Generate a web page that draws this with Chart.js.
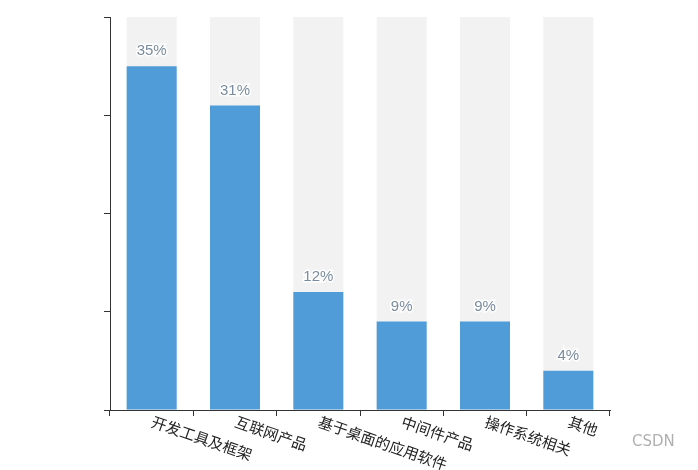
<!DOCTYPE html>
<html>
<head>
<meta charset="utf-8">
<script src="https://cdn.jsdelivr.net/npm/chart.js@4"></script>
<style>
  body { margin: 0; background: #fff; }
  #wrap { width: 698px; height: 470px; }
</style>
</head>
<body>
<div id="wrap"><canvas id="chart"></canvas></div>
<script>
const categories = ["开发工具及框架", "互联网产品", "基于桌面的应用软件", "中间件产品", "操作系统相关", "其他"];
const shares = [35, 31, 12, 9, 9, 4];
const fullScale = [40, 40, 40, 40, 40, 40];
const yTicks = [0, 10, 20, 30, 40];

// draws the slanted category names, the % labels and the watermark
const labelsPlugin = {
    id: 'labels',
    afterDraw(chart) {
        const ctx = chart.ctx;
        const x = chart.scales.x;
        const y = chart.scales.y;
        ctx.save();
        ctx.font = '15px "Noto Sans CJK SC", sans-serif';
        ctx.fillStyle = '#222';
        ctx.textAlign = 'left';
        ctx.textBaseline = 'top';
        categories.forEach((c, i) => {
            ctx.save();
            ctx.translate(x.getPixelForTick(i) + 3, y.bottom + 4);
            ctx.rotate(19 * Math.PI / 180);
            ctx.fillText(c, 0, 0);
            ctx.restore();
        });

        const meta = chart.getDatasetMeta(0);
        ctx.font = '15px "Liberation Sans", Arial, sans-serif';
        ctx.textAlign = 'center';
        ctx.textBaseline = 'middle';
        ctx.lineWidth = 3;
        ctx.strokeStyle = '#fff';
        ctx.fillStyle = '#7a8c9e';
        meta.data.forEach((bar, i) => {
            const t = shares[i] + '%';
            ctx.strokeText(t, bar.x, bar.y - 15);
            ctx.fillText(t, bar.x, bar.y - 15);
        });

        ctx.font = '15px "DejaVu Sans", sans-serif';
        ctx.fillStyle = '#b0b0b0';
        ctx.textAlign = 'left';
        ctx.fillText('CSDN', 632, 442);
        ctx.restore();
    }
};

new Chart(document.getElementById("chart"), {
    type: 'bar',
    data: {
        labels: categories,
        datasets: [{
            data: shares,
            backgroundColor: '#4f9cd9',
            grouped: false,
            barPercentage: 0.6,
            categoryPercentage: 1
        }, {
            data: fullScale,
            backgroundColor: '#f2f2f2',
            grouped: false,
            barPercentage: 0.6,
            categoryPercentage: 1
        }]
    },
    options: {
        responsive: true,
        maintainAspectRatio: false,
        animation: false,
        layout: { padding: { left: 104, right: 88, top: 17, bottom: 54 } },
        plugins: { legend: { display: false }, tooltip: { enabled: false } },
        scales: {
            x: {
                grid: { drawOnChartArea: false, tickLength: 6, color: '#333' },
                border: { color: '#333' },
                ticks: { display: false }
            },
            y: {
                min: yTicks[0],
                max: yTicks[yTicks.length - 1],
                afterBuildTicks: (s) => { s.ticks = yTicks.map(v => ({ value: v })); },
                grid: { drawOnChartArea: false, tickLength: 6, color: '#333' },
                border: { color: '#333' },
                ticks: { display: false }
            }
        }
    },
    plugins: [labelsPlugin]
});
</script>
</body>
</html>
